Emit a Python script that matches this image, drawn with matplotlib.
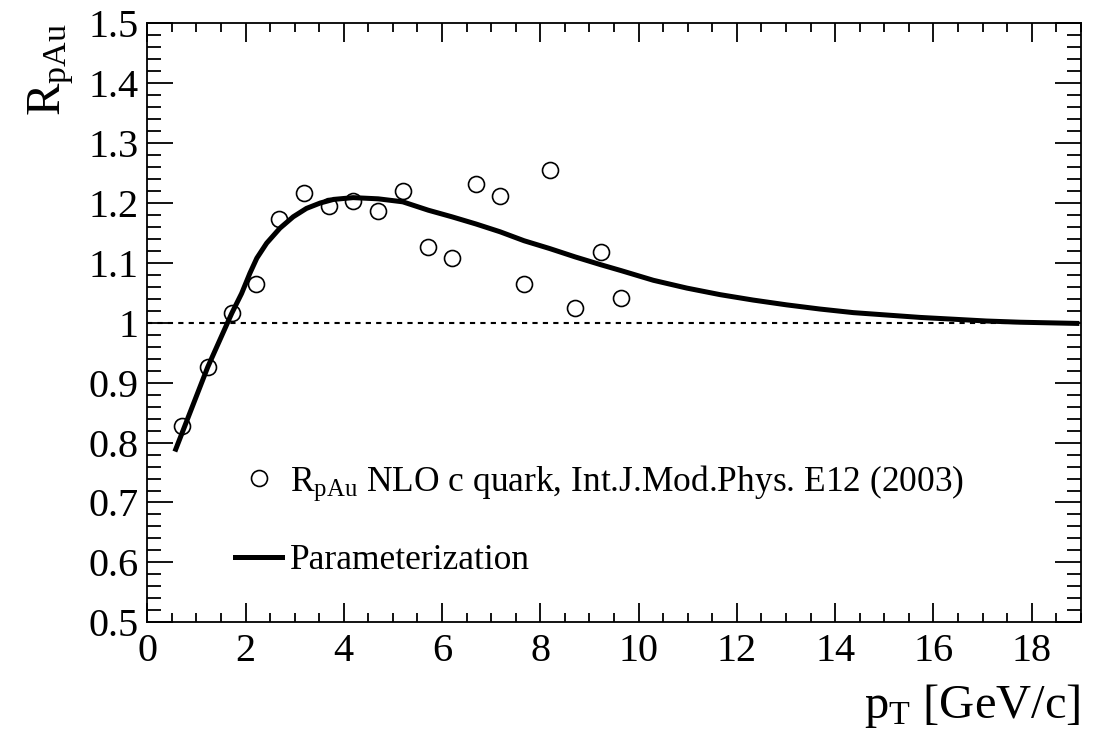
import matplotlib
matplotlib.use("Agg")
import matplotlib.pyplot as plt
from matplotlib.ticker import MultipleLocator

plt.rcParams['font.family'] = ['Liberation Serif', 'DejaVu Serif']
plt.rcParams['mathtext.fontset'] = 'custom'
plt.rcParams['mathtext.rm'] = 'Liberation Serif'
plt.rcParams['mathtext.it'] = 'Liberation Serif:italic'

# NLO c quark R_pAu points
pt_points = [0.70, 1.23, 1.72, 2.21, 2.69, 3.18, 3.70, 4.19, 4.70, 5.20,
             5.72, 6.20, 6.69, 7.18, 7.67, 8.19, 8.71, 9.23, 9.65]
rpau_points = [0.828, 0.926, 1.016, 1.065, 1.174, 1.217, 1.195, 1.203, 1.187, 1.220,
               1.126, 1.108, 1.231, 1.212, 1.065, 1.255, 1.025, 1.118, 1.041]

# parameterization curve
pt_curve = [0.58, 1.23, 1.72, 1.92, 2.09, 2.23, 2.43, 2.70, 2.97, 3.24, 3.52,
            3.79, 4.19, 4.70, 5.20, 5.72, 6.20, 6.69, 7.18, 7.67, 8.19, 8.71,
            9.23, 9.65, 10.30, 10.98, 11.66, 12.33, 13.01, 13.69, 14.37, 15.05,
            15.73, 16.41, 17.08, 17.76, 18.92]
rpau_curve = [0.789, 0.926, 1.016, 1.049, 1.083, 1.108, 1.133, 1.158, 1.177, 1.191, 1.200,
              1.206, 1.209, 1.207, 1.202, 1.188, 1.177, 1.165, 1.152, 1.137, 1.124, 1.110,
              1.097, 1.087, 1.071, 1.058, 1.047, 1.038, 1.030, 1.023, 1.017, 1.013,
              1.009, 1.006, 1.003, 1.001, 0.999]

fig = plt.figure(figsize=(10.95, 7.36), dpi=100)
ax = fig.add_axes([0.1345, 0.1545, 0.8525, 0.8138])

ax.axhline(1.0, color='black', lw=1.5, ls=(0, (2.5, 2.5)), zorder=1)
line, = ax.plot(pt_curve, rpau_curve, color='black', lw=3.6, zorder=2,
                solid_joinstyle='round', label='Parameterization')
pts, = ax.plot(pt_points, rpau_points, ls='none', marker='o', ms=11.5,
               mfc='none', mec='black', mew=1.2, zorder=3,
               label=r'R$_{\mathrm{pAu}}$ NLO c quark, Int.J.Mod.Phys. E12 (2003)')

ax.set_xlim(0, 19)
ax.set_ylim(0.5, 1.5)
ax.xaxis.set_major_locator(MultipleLocator(2))
ax.xaxis.set_minor_locator(MultipleLocator(0.5))
ax.yaxis.set_minor_locator(MultipleLocator(0.02))
ax.set_yticks([0.5, 0.6, 0.7, 0.8, 0.9, 1.0, 1.1, 1.2, 1.3, 1.4, 1.5])
ax.set_yticklabels(['0.5', '0.6', '0.7', '0.8', '0.9', '1', '1.1', '1.2', '1.3', '1.4', '1.5'])

for sp in ax.spines.values():
    sp.set_linewidth(1.3)
ax.tick_params(axis='both', which='both', direction='in', top=True, right=True,
               labelsize=29, width=1.3)
ax.tick_params(axis='x', which='major', length=13.7, pad=8)
ax.tick_params(axis='x', which='minor', length=6.5)
ax.tick_params(axis='y', which='major', length=18.7, pad=6)
ax.tick_params(axis='y', which='minor', length=10)

ax.set_xlabel(r'p$_{\mathrm{T}}$ [GeV/c]', fontsize=35, loc='right', labelpad=8)
ax.set_ylabel(r'R$_{\mathrm{pAu}}$', fontsize=35, loc='top', labelpad=9)

ax.legend(handles=[pts, line], loc='upper left', bbox_to_anchor=(0.079, 0.289),
          frameon=False, fontsize=25.5, handlelength=1.33, handletextpad=0.21,
          labelspacing=1.16, borderaxespad=0)

fig.savefig('out.png', dpi=100)
